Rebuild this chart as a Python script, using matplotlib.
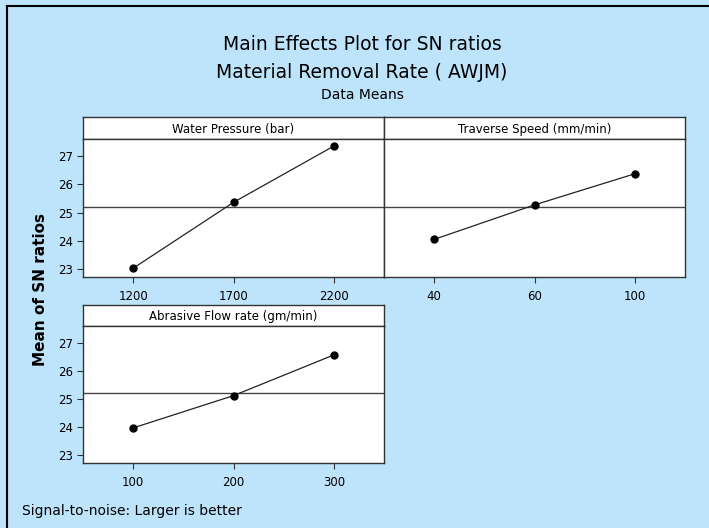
import numpy as np
import matplotlib
matplotlib.use("Agg")
import matplotlib.pyplot as plt
from matplotlib.lines import Line2D

# data
factors = ["Water Pressure (bar)", "Traverse Speed (mm/min)", "Abrasive Flow rate (gm/min)"]
levels_wp = ["1200", "1700", "2200"]
levels_ts = ["40", "60", "100"]
levels_afr = ["100", "200", "300"]
sn_wp = [23.03, 25.36, 27.35]
sn_ts = [24.05, 25.27, 26.37]
sn_afr = [23.97, 25.12, 26.57]
grand_mean = 25.21
yticks = [23, 24, 25, 26, 27]

W, H = 709, 528
bg = "#BEE4FB"

plt.rcParams['font.family'] = ['DejaVu Sans']

fig = plt.figure(figsize=(W / 100, H / 100), dpi=100)
fig.patch.set_facecolor(bg)


def box(x0, y0, x1, y1):
    # pixel box (top-left origin) -> figure fraction rect
    return [x0 / W, 1 - y1 / H, (x1 - x0) / W, (y1 - y0) / H]


def panel(x0, x1, y_strip, y_top, y_bot, title, levels, values, show_y):
    st = fig.add_axes(box(x0, y_strip, x1, y_top))
    st.set_facecolor("white")
    st.set_xticks([])
    st.set_yticks([])
    st.text(0.5, 0.45, title, ha="center", va="center", fontsize=8.5,
            transform=st.transAxes)
    for s in st.spines.values():
        s.set_color("#333333")
        s.set_linewidth(1.0)

    ax = fig.add_axes(box(x0, y_top, x1, y_bot))
    ax.set_facecolor("white")
    x = np.arange(len(levels))
    ax.axhline(grand_mean, color="#444444", lw=1.0)
    ax.plot(x, values, color="#222222", lw=0.9, marker="o", ms=5,
            markerfacecolor="black", markeredgecolor="black")
    ax.set_xlim(-0.5, len(levels) - 0.5)
    ax.set_ylim(22.72, 27.6)
    ax.set_xticks(x)
    ax.set_xticklabels(levels, fontsize=8.5)
    ax.tick_params(axis="x", direction="out", length=4, width=0.8, pad=5,
                   color="#333333")
    if show_y:
        ax.set_yticks(yticks)
        ax.set_yticklabels([str(v) for v in yticks], fontsize=8.5)
        ax.tick_params(axis="y", direction="out", length=4, width=0.8,
                       pad=3, color="#333333")
    else:
        ax.set_yticks([])
    for s in ax.spines.values():
        s.set_color("#333333")
        s.set_linewidth(1.0)
    return ax


panel(83, 384, 117, 139, 277, factors[0], levels_wp, sn_wp, True)
panel(384, 685, 117, 139, 277, factors[1], levels_ts, sn_ts, False)
panel(83, 384, 305, 326, 463, factors[2], levels_afr, sn_afr, True)

# titles
fig.text(362 / W, 1 - 45 / H, "Main Effects Plot for SN ratios", ha="center",
         va="center", fontsize=13.5)
fig.text(362 / W, 1 - 72 / H, "Material Removal Rate ( AWJM)", ha="center",
         va="center", fontsize=13.5)
fig.text(362 / W, 1 - 95 / H, "Data Means", ha="center", va="center",
         fontsize=10)

fig.text(41 / W, 1 - 290 / H, "Mean of SN ratios", rotation=90, ha="center",
         va="center", fontsize=11, fontweight="bold")
fig.text(22 / W, 1 - 511 / H, "Signal-to-noise: Larger is better", ha="left",
         va="center", fontsize=10)

# frame lines on top and left edge
fig.add_artist(Line2D([7 / W, 7 / W], [0, 1 - 6 / H], color="black", lw=1.5,
                      transform=fig.transFigure))
fig.add_artist(Line2D([7 / W, 1], [1 - 6 / H, 1 - 6 / H], color="black", lw=1.5,
                      transform=fig.transFigure))

fig.savefig("out.png", dpi=100, facecolor=bg)
